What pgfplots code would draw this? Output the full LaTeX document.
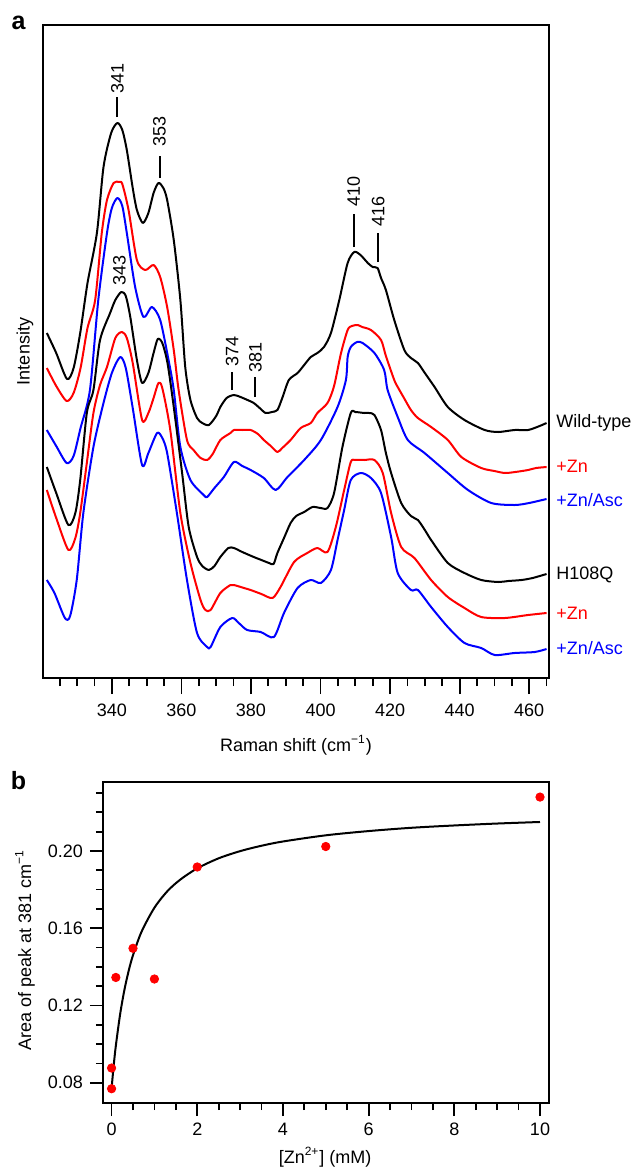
\documentclass[border=0pt]{standalone}
\usepackage{fontspec}
\setmainfont{Liberation Sans}
\usepackage{pgfplots}
\pgfplotsset{compat=1.18}

\definecolor{specred}{RGB}{255,0,0}
\definecolor{specblue}{RGB}{0,0,255}

\pgfplotsset{
  spec/.style={line width=1pt, line join=round, mark=none, smooth, tension=0.45},
  common/.style={
    scale only axis, clip=false,
    tick align=outside, tick pos=left,
    axis line style={line width=1pt},
    tick style={line width=0.9pt, black},
    font=\fontsize{9}{10}\selectfont,
    tick label style={font=\fontsize{9}{10}\selectfont},
    /pgf/number format/assume math mode=true,
  },
}

\begin{document}
\begin{tikzpicture}
\useasboundingbox (-21.5pt,-245.5pt) rectangle (296pt,339pt);

% panel a: Raman spectra (intensity in arbitrary units, offsets as drawn)
\begin{axis}[common,
    at={(0pt,0pt)}, anchor=south west,
    width=253pt, height=326.5pt,
    xmin=320.2, xmax=465.7, ymin=0, ymax=653,
    ytick=\empty,
    xtick={340,360,...,460},
    minor xtick={325,330,...,465},
    major tick length=8pt, minor tick length=4pt,
    xticklabel style={yshift=-1.5pt},
  ]
  % Wild-type
  \addplot[spec, black] coordinates {
    (321.3,345) (324,325) (327.1,299) (329,310) (330.9,345) (333,395) (335.7,445)
    (337.6,511) (339.8,545) (341.6,555) (343,548) (344.3,528) (346,490) (347.2,468)
    (348.9,455) (350.5,465) (352,485) (353.4,495) (354.8,490) (355.9,478) (357.8,438)
    (359.7,378) (361.1,311) (362.6,278) (364.5,260) (366,255) (367.9,253) (370,262)
    (371.2,271) (373,280) (375.1,283) (377,281) (379,278) (380.8,275) (382.5,270)
    (384.2,265) (386,266) (387.6,268) (389,280) (390.9,298) (393.4,305) (395.3,313)
    (397.2,321) (399.1,325) (401.0,331) (403.0,345) (405.4,378) (407.8,415) (409.7,426)
    (411.5,423) (413.6,415) (415,411) (416.4,410) (417.4,400) (418.8,388) (421.2,358)
    (424.1,328) (426,320) (428.0,315) (430,305) (432.8,291) (436.6,271) (441.4,258)
    (447.2,248) (451.1,246) (455.8,248) (459.7,248) (463,252) (465.0,255)};
  % Wild-type +Zn
  \addplot[spec, specred] coordinates {
    (321.3,310) (324,292) (327.0,277) (329,285) (331,310) (333,350) (335.2,378)
    (337.1,445) (338.6,478) (340.5,495) (342.1,496) (343,494) (344.8,468) (347.2,418)
    (349.6,408) (352.0,413) (353.9,401) (355.9,371) (357.8,328) (359.2,288) (361.6,238)
    (363.5,228) (365.5,220) (367.4,218) (369,224) (371.2,238) (374.1,245) (375.1,248)
    (377.5,248) (379.9,248) (382,244) (383.7,238) (385.7,232) (387.6,226) (389,230)
    (391.4,238) (394.3,250) (397.2,255) (399.1,265) (402.0,275) (403.9,292) (405.9,325)
    (407.8,348) (409,352) (410.7,353) (412,351) (414.5,348) (417.4,338) (418.8,322)
    (421.2,298) (422.2,291) (424,280) (426.0,268) (428,260) (431.8,251) (436.6,238)
    (440.5,221) (446.2,210) (450,207) (453.0,205) (456,206) (459.7,208) (462,210) (465.0,211)};
  % Wild-type +Zn/Asc
  \addplot[spec, specblue] coordinates {
    (321.3,248) (324,232) (327.0,215) (329,222) (331,250) (333.7,288) (336.1,378)
    (338.6,445) (340,470) (341.6,480) (343,472) (344.3,445) (346.7,391) (349.1,361)
    (351.5,371) (353.9,358) (356.3,318) (357.8,288) (359.7,231) (362.6,198) (366.4,183)
    (367.4,181) (369.5,190) (372.2,201) (375.1,216) (377.5,212) (379.9,208) (383.7,200)
    (387.1,188) (390.5,201) (395.3,218) (400.1,238) (404.9,271) (407.3,298) (407.8,321)
    (408.7,331) (410.5,336) (412.1,335) (415.5,325) (418.3,308) (419.3,288) (422.2,261)
    (425.1,238) (429.9,225) (436.6,205) (442.4,188) (449.1,175) (455.8,173) (460,175) (465.0,179)};
  % H108Q
  \addplot[spec, black] coordinates {
    (321.3,211) (324,185) (327.5,153) (329.5,165) (330.9,198) (332.8,265) (334.7,288)
    (336.6,338) (339.5,365) (341,378) (342.7,386) (344,382) (345.3,361) (347.2,318)
    (348.7,295) (350.5,305) (352,325) (353.2,339) (354.5,335) (356,315) (357.8,271)
    (360.2,205) (362.1,151) (364.5,121) (366,112) (367.9,108) (369.5,112) (371.2,121)
    (373.5,130) (375.1,130) (377.5,126) (380.8,121) (383,118) (385.2,115) (386.5,114)
    (387.6,125) (389.5,140) (391.4,155) (393,162) (395.3,166) (397.7,171) (400,170)
    (402.0,170) (403.9,185) (406.3,231) (408.7,265) (410,266) (412.6,265) (414,265)
    (415.5,263) (417.4,248) (418.8,225) (420.3,205) (423.2,175) (426,162) (428.0,158)
    (430,148) (431.8,138) (436.6,115) (441.4,105) (446.2,98) (451.1,96) (454,97)
    (457.8,98) (461,100) (465.0,104)};
  % H108Q +Zn
  \addplot[spec, specred] coordinates {
    (321.3,188) (324,160) (327.5,128) (329.5,140) (330.9,165) (332.8,215) (334.7,265)
    (336.6,293) (338.6,311) (341,340) (342.9,346) (344.3,340) (346,315) (348.7,258)
    (350.5,265) (352,280) (353.4,295) (354.5,290) (356.8,248) (359.7,165) (362.6,115)
    (365.5,78) (366.9,68) (368.4,68) (371.2,85) (374.1,93) (375.1,93) (378,90)
    (379.9,88) (383,84) (386.2,80) (388.5,91) (392.4,116) (396.2,125) (399.1,130)
    (402.0,126) (404.4,151) (406.8,188) (408.7,216) (410,218) (412.6,218) (415.5,218)
    (417.9,205) (420.3,165) (423.2,131) (427.0,120) (431.8,98) (436.6,81) (441.4,70)
    (446.2,61) (453.0,60) (459.7,63) (465.0,65)};
  % H108Q +Zn/Asc
  \addplot[spec, specblue] coordinates {
    (321.3,98) (323.5,85) (326.5,60) (328,62) (329.9,98) (331.8,165) (334.7,231)
    (337.6,275) (340,305) (342.4,321) (344,310) (346,270) (348.7,213) (350.5,225)
    (353.0,245) (354.5,240) (355.9,225) (358.7,165) (361.6,98) (364.5,45) (367.4,31)
    (368.4,31) (371.2,51) (374.6,60) (376.5,55) (378.9,48) (382.8,46) (386.6,41)
    (389.5,65) (393.4,90) (397.2,98) (400.1,95) (403.0,108) (404.9,138) (406.8,168)
    (408.7,198) (411.6,205) (414.5,200) (417.4,185) (420.3,141) (422.2,105) (426.0,88)
    (428.0,88) (431.8,71) (436.6,51) (441.4,35) (446.2,30) (450.1,23) (455.8,25)
    (461.6,26) (465.0,29)};

  % peak markers
  \begin{scope}[line width=1pt]
    \draw (axis cs:341.4,561) -- (axis cs:341.4,581);
    \draw (axis cs:353.7,500) -- (axis cs:353.7,522);
    \draw (axis cs:374.6,288) -- (axis cs:374.6,306);
    \draw (axis cs:381.3,281) -- (axis cs:381.3,301);
    \draw (axis cs:409.5,431) -- (axis cs:409.5,464);
    \draw (axis cs:416.6,416) -- (axis cs:416.6,445);
  \end{scope}
  \begin{scope}[every node/.style={rotate=90, anchor=west, inner sep=0pt}]
    \node at (axis cs:341.6,584) {341};
    \node at (axis cs:353.7,531) {353};
    \node at (axis cs:342.2,392) {343};
    \node at (axis cs:374.6,311) {374};
    \node at (axis cs:381.3,305) {381};
    \node at (axis cs:409.5,471) {410};
    \node at (axis cs:416.6,451) {416};
  \end{scope}

  % trace names
  \begin{scope}[every node/.style={anchor=west, inner sep=0pt}]
    \node at (axis cs:467.7,255) {Wild-type};
    \node[text=specred] at (axis cs:467.7,212) {+Zn};
    \node[text=specblue] at (axis cs:467.7,178) {+Zn/Asc};
    \node at (axis cs:467.7,103) {H108Q};
    \node[text=specred] at (axis cs:467.7,65) {+Zn};
    \node[text=specblue] at (axis cs:467.7,30) {+Zn/Asc};
  \end{scope}

  \node[rotate=90] at ([xshift=-9pt]rel axis cs:0,0.5) {Intensity};
  \node at ([yshift=-33.5pt]rel axis cs:0.5,0) {Raman shift (cm\textsuperscript{−1})};
\end{axis}
\node[font=\fontsize{12.5}{13}\selectfont\bfseries] at (-12.25pt,327.75pt) {a};

% panel b: peak area vs zinc concentration
\begin{axis}[common,
    at={(30pt,-212.5pt)}, anchor=south west,
    width=223pt, height=160.5pt,
    xmin=-0.2, xmax=10.21, ymin=0.0695, ymax=0.2357,
    xtick={0,2,...,10},
    minor xtick={0.5,1,...,10},
    ytick={0.08,0.12,0.16,0.20},
    minor ytick={0.09,0.10,0.11,0.13,0.14,0.15,0.17,0.18,0.19,0.21,0.22,0.23},
    yticklabel style={/pgf/number format/.cd, fixed, fixed zerofill, precision=2},
    major tick length=6.5pt, minor tick length=3.5pt,
  ]
  \addplot[line width=1pt, black, mark=none, smooth] coordinates {
    (0,0.077) (0.05,0.089) (0.1,0.0992) (0.2,0.1155) (0.3,0.1281) (0.4,0.138)
    (0.5,0.146) (0.7,0.1582) (1.0,0.1706) (1.3,0.1791) (1.6,0.1851) (2.0,0.191)
    (2.5,0.1962) (3.0,0.1999) (3.5,0.2027) (4,0.2049) (5,0.2081) (6,0.2103)
    (7,0.212) (8,0.2132) (9,0.2142) (10,0.215)};
  \addplot[only marks, mark=*, mark size=2.1pt, specred, mark options={draw=specred, fill=specred}] coordinates {
    (0,0.0769) (0,0.0876) (0.1,0.1345) (0.5,0.1496) (1,0.1337) (2,0.1917) (5,0.2023) (10,0.2279)};

  \node[rotate=90] at ([xshift=-39pt]rel axis cs:0,0.477) {Area of peak at 381 cm\textsuperscript{−1}};
  \node at ([yshift=-27pt]rel axis cs:0.498,0) {[Zn\textsuperscript{2+}] (mM)};
\end{axis}
\node[font=\fontsize{12.5}{13}\selectfont\bfseries] at (-12.25pt,-51.5pt) {b};
\end{tikzpicture}
\end{document}
